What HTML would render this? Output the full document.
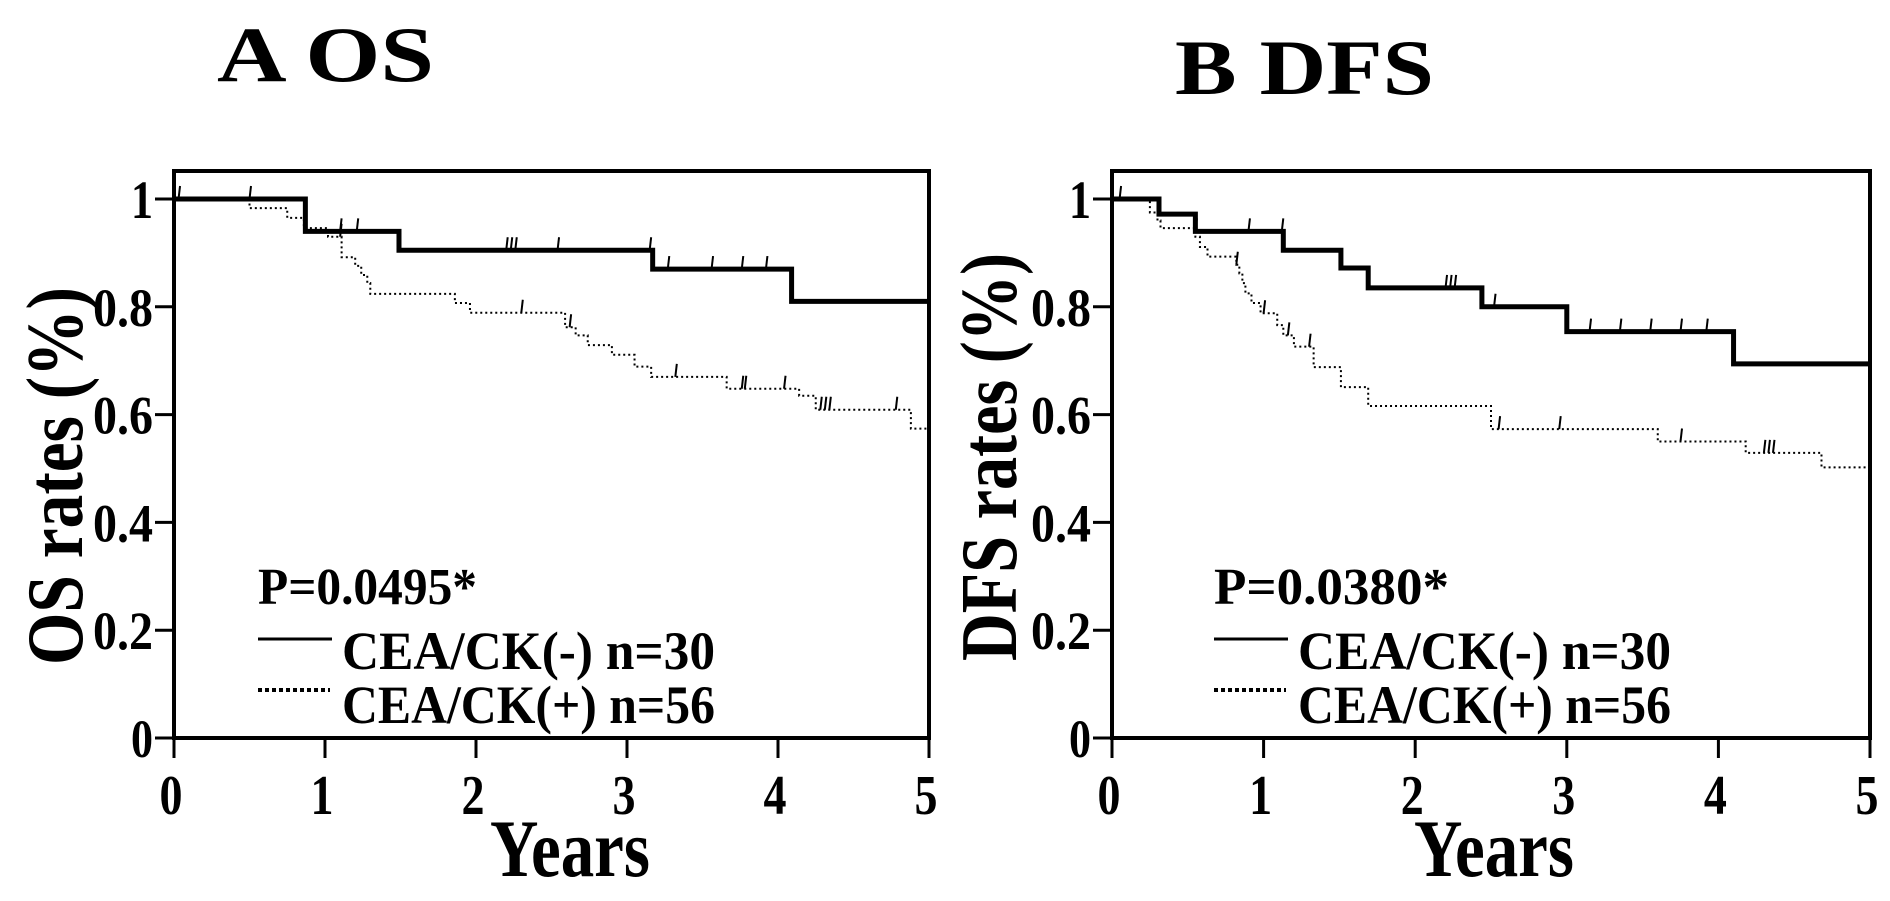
<!DOCTYPE html>
<html><head><meta charset="utf-8"><style>
html,body{margin:0;padding:0;background:#fff;}
svg{display:block;font-family:"Liberation Serif",serif;font-weight:bold;}
</style></head><body>
<svg id="fig" width="1890" height="901" viewBox="0 0 1890 901">
<text x="217" y="81" font-size="78" textLength="217" lengthAdjust="spacingAndGlyphs">A  OS</text>
<text x="1175" y="94" font-size="78" textLength="259" lengthAdjust="spacingAndGlyphs">B  DFS</text>
</svg>
<script>
// Panel A (OS) data
const osNegTimes=[0.87,1.49,3.17,4.09];
const osNegSurv=[0.94,0.905,0.87,0.81];
const osNegCens=[0.03,0.5,1.1,1.21,2.2,2.23,2.26,2.54,3.15,3.27,3.56,3.76,3.92];
const osPosTimes=[0.5,0.75,0.86,1.02,1.11,1.2,1.24,1.28,1.3,1.86,1.96,2.59,2.66,2.74,2.9,3.05,3.16,3.66,4.14,4.25,4.88];
const osPosSurv=[0.983,0.965,0.946,0.93,0.892,0.876,0.859,0.844,0.824,0.807,0.789,0.762,0.747,0.729,0.711,0.689,0.67,0.648,0.635,0.609,0.574];
const osPosCens=[1.1,2.3,2.62,3.32,3.76,3.78,4.04,4.28,4.31,4.34,4.78];
// Panel B (DFS) data
const dfsNegTimes=[0.31,0.55,1.13,1.51,1.69,2.44,3.0,4.1];
const dfsNegSurv=[0.972,0.94,0.905,0.872,0.835,0.8,0.754,0.694];
const dfsNegCens=[0.05,0.55,0.9,1.12,2.2,2.23,2.26,2.52,3.15,3.35,3.55,3.75,3.92];
const dfsPosTimes=[0.25,0.3,0.32,0.55,0.58,0.63,0.82,0.84,0.86,0.88,0.92,0.98,1.09,1.13,1.2,1.33,1.51,1.69,2.5,3.6,4.18,4.68];
const dfsPosSurv=[0.975,0.96,0.946,0.93,0.911,0.893,0.878,0.862,0.844,0.825,0.807,0.788,0.766,0.747,0.726,0.688,0.651,0.616,0.573,0.55,0.529,0.502];
const dfsPosCens=[0.82,1.0,1.16,1.3,2.55,2.95,3.75,4.3,4.33,4.36];
const yTicks=[0,0.2,0.4,0.6,0.8,1];
const yTickLabels=["0","0.2","0.4","0.6","0.8","1"];
const xTicks=[0,1,2,3,4,5];
const NS="http://www.w3.org/2000/svg";
const svg=document.getElementById('fig');
function mk(tag,attrs,parent,text){const e=document.createElementNS(NS,tag);for(const k in attrs)e.setAttribute(k,attrs[k]);if(text!==undefined)e.textContent=text;(parent||svg).appendChild(e);return e;}
function survAt(times,surv,t){let s=1;for(let i=0;i<times.length;i++){if(times[i]<=t)s=surv[i];}return s;}
function panel(cfg){
  const g=mk('g',{});
  
  
  const X=v=>cfg.x0+(cfg.x5-cfg.x0)*v/5;
  const Y=v=>cfg.yb+(cfg.yt1-cfg.yb)*v;
  const fr=mk('rect',{x:cfg.x0,y:171,width:cfg.x5-cfg.x0,height:cfg.yb-171,fill:'none',stroke:'#000','stroke-width':4},g);
  
  
  yTicks.forEach((v,i)=>{
    const t=mk('line',{x1:cfg.x0-19,x2:cfg.x0,y1:Y(v),y2:Y(v),stroke:'#000','stroke-width':3},g);
    
    
    const s=yTickLabels[i];
    const l=mk('text',{x:cfg.x0-21,y:Y(v)+19,'font-size':54,'text-anchor':'end',textLength:s.length>1?60:22,lengthAdjust:'spacingAndGlyphs'},g,s);
    
    
  });
  xTicks.forEach(v=>{
    const t=mk('line',{x1:X(v),x2:X(v),y1:cfg.yb,y2:cfg.yb+20,stroke:'#000','stroke-width':3},g);
    
    
    const l=mk('text',{x:X(v)-3,y:cfg.yb+76,'font-size':56,'text-anchor':'middle',textLength:23,lengthAdjust:'spacingAndGlyphs'},g,String(v));
    
    
  });
  const xt=mk('text',{x:cfg.yearsX,y:876,'font-size':82,'text-anchor':'middle',textLength:160,lengthAdjust:'spacingAndGlyphs'},g,'Years');
  
  
  const yt=mk('text',{x:0,y:0,'font-size':80,'text-anchor':'middle',textLength:cfg.ytLen,lengthAdjust:'spacingAndGlyphs',transform:`translate(${cfg.ytx},${cfg.yty}) rotate(-90)`},g,cfg.ytitle);
  
  
  function curve(times,surv,cens,style,nm){
    let d=`M${X(0)},${Y(1)}`;
    times.forEach((t,i)=>{d+=` H${X(t)} V${Y(surv[i])}`;});
    d+=` H${X(5)}`;
    const p=mk('path',Object.assign({d:d,fill:'none',stroke:'#000'},style),g);
    
    
    cens.forEach(t=>{
      const yy=Y(survAt(times,surv,t));
      const c=mk('line',{x1:X(t),x2:X(t)+1.5,y1:yy,y2:yy-13,stroke:'#000','stroke-width':2},g);
      
      
    });
  }
  curve(cfg.posT,cfg.posS,cfg.posC,{'stroke-width':2,'stroke-dasharray':'2,3'},'cea-ck-positive');
  curve(cfg.negT,cfg.negS,cfg.negC,{'stroke-width':5},'cea-ck-negative');
  const pv=mk('text',{x:cfg.lx,y:604,'font-size':52,textLength:cfg.pLen,lengthAdjust:'spacingAndGlyphs'},g,cfg.p);
  
  
  const l1=mk('line',{x1:cfg.lx,x2:cfg.lx+74,y1:639,y2:639,stroke:'#000','stroke-width':3},g);
  
  
  const t1=mk('text',{x:cfg.lx+84,y:669,'font-size':54,textLength:373,lengthAdjust:'spacingAndGlyphs'},g,'CEA/CK(-)  n=30');
  
  
  const l2=mk('line',{x1:cfg.lx,x2:cfg.lx+72,y1:690,y2:690,stroke:'#000','stroke-width':4,'stroke-dasharray':'4,3'},g);
  
  
  const t2=mk('text',{x:cfg.lx+84,y:723,'font-size':54,textLength:373,lengthAdjust:'spacingAndGlyphs'},g,'CEA/CK(+) n=56');
  
  
}
panel({name:'panel-a-os',x0:174,x5:929,yb:738,yt1:199,ytitle:'OS rates (%)',ytx:82,yty:476,ytLen:378,yearsX:570,
  negT:osNegTimes,negS:osNegSurv,negC:osNegCens,posT:osPosTimes,posS:osPosSurv,posC:osPosCens,lx:258,p:'P=0.0495*',pLen:219});
panel({name:'panel-b-dfs',x0:1112,x5:1870,yb:738,yt1:199,ytitle:'DFS rates (%)',ytx:1016,yty:457,ytLen:408,yearsX:1494,
  negT:dfsNegTimes,negS:dfsNegSurv,negC:dfsNegCens,posT:dfsPosTimes,posS:dfsPosSurv,posC:dfsPosCens,lx:1214,p:'P=0.0380*',pLen:235});
</script>
</body></html>
